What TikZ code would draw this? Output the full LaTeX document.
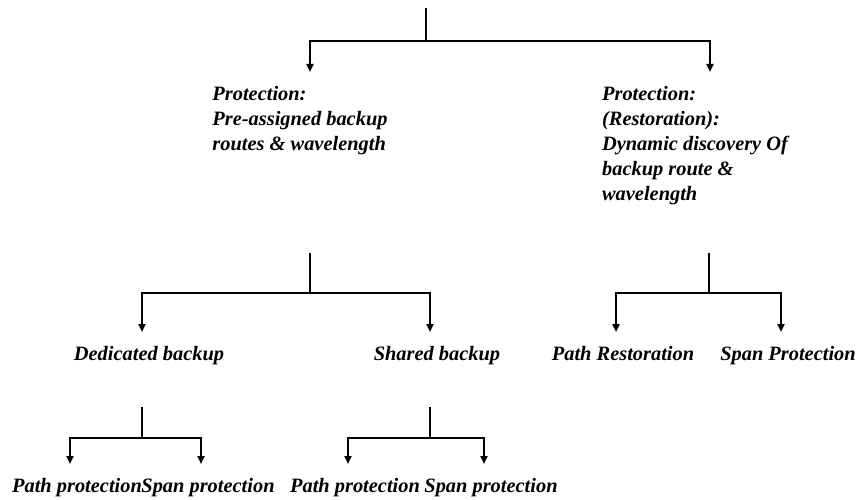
\documentclass[tikz,border=0pt]{standalone}
\usepackage{fontspec}
\setmainfont{Liberation Serif}
\usetikzlibrary{arrows.meta}
\begin{document}
\begin{tikzpicture}[x=1pt,y=-1pt,line width=2pt,
  arr/.style={-{Triangle[width=7pt,length=8pt]}},
  lbl/.style={anchor=north,inner xsep=0pt,inner ysep=13pt,align=left,
    font=\fontsize{20.4}{25}\selectfont\bfseries\itshape,
    execute at begin node=\rule{0pt}{14pt}}]
\useasboundingbox (0,0) rectangle (859,500);
\coordinate (s0) at (426,8); \coordinate (j0) at (426,41);
\coordinate (s1) at (310,253); \coordinate (j1) at (310,293);
\coordinate (s2) at (709,253); \coordinate (j2) at (709,293);
\coordinate (s3) at (142,407); \coordinate (j3) at (142,438);
\coordinate (s4) at (430,407); \coordinate (j4) at (430,438);
% first level
\node[lbl] (pre) at (300,72) {Protection:\\Pre-assigned backup\\routes \& wavelength};
\node[lbl] (dyn) at (695,72) {Protection:\\(Restoration):\\Dynamic discovery Of\\backup route \&\\wavelength};
% second level
\node[lbl] (ded) at (149,332) {Dedicated backup};
\node[lbl] (shr) at (437,332) {Shared backup};
\node[lbl] (pr) at (623,332) {Path Restoration};
\node[lbl] (sp) at (788,332) {Span Protection};
% third level
\node[lbl] (dpp) at (77,464) {Path protection};
\node[lbl] (dsp) at (208,464) {Span protection};
\node[lbl] (spp) at (355,464) {Path protection};
\node[lbl] (ssp) at (491,464) {Span protection};
\draw (s0)--(j0); \draw[arr] (j0) -| ([xshift=10pt]pre.north); \draw[arr] (j0) -| ([xshift=15pt]dyn.north);
\draw (s1)--(j1); \draw[arr] (j1) -| ([xshift=-7pt]ded.north); \draw[arr] (j1) -| ([xshift=-7pt]shr.north);
\draw (s2)--(j2); \draw[arr] (j2) -| ([xshift=-7pt]pr.north); \draw[arr] (j2) -| ([xshift=-7pt]sp.north);
\draw (s3)--(j3); \draw[arr] (j3) -| ([xshift=-7pt]dpp.north); \draw[arr] (j3) -| ([xshift=-7pt]dsp.north);
\draw (s4)--(j4); \draw[arr] (j4) -| ([xshift=-7pt]spp.north); \draw[arr] (j4) -| ([xshift=-7pt]ssp.north);
\end{tikzpicture}
\end{document}
